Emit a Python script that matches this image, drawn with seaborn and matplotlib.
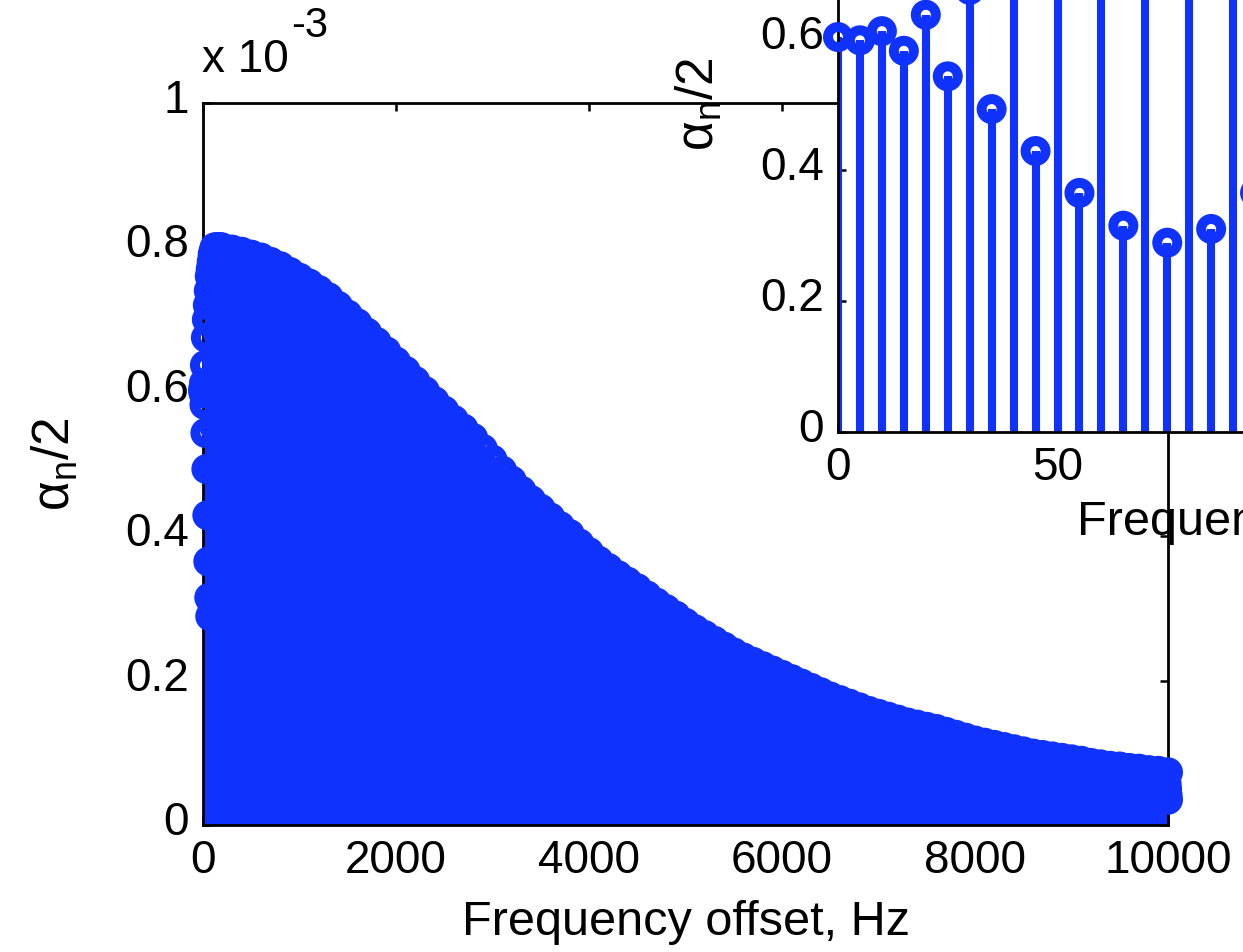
import numpy as np
import pandas as pd
import seaborn as sns
import matplotlib
matplotlib.use("Agg")
import matplotlib.pyplot as plt
from matplotlib.transforms import ScaledTranslation

# ---------------- data (amplitudes in units of 1e-3) ----------------
# harmonics close to the carrier (5 Hz apart)
near_freq = [0, 5, 10, 15, 20, 25, 30, 35, 40, 45,
             50, 55, 60, 65, 70, 75, 80, 85, 90, 95,
             100, 105, 110, 115, 120, 125, 130, 135, 140, 145,
             150, 155, 160, 165, 170, 175, 180, 185, 190, 195]
near_amp = [0.603, 0.598, 0.612, 0.582, 0.637, 0.543, 0.675, 0.493, 0.70, 0.429,
            0.72, 0.365, 0.74, 0.315, 0.76, 0.289, 0.77, 0.310, 0.78, 0.365,
            0.79, 0.43, 0.795, 0.49, 0.80, 0.55, 0.80, 0.60, 0.80, 0.64,
            0.80, 0.68, 0.80, 0.72, 0.80, 0.75, 0.80, 0.78, 0.80, 0.80]

# wider spectrum (one value every 100 Hz)
far_freq = list(range(300, 10001, 100))
far_amp = [0.797, 0.794, 0.790, 0.786, 0.780, 0.774, 0.766, 0.758, 0.750, 0.741,
           0.731, 0.719, 0.707, 0.695, 0.682, 0.669, 0.656, 0.642, 0.629, 0.615,
           0.601, 0.587, 0.574, 0.561, 0.549, 0.536, 0.521, 0.506, 0.491, 0.477,
           0.463, 0.450, 0.438, 0.426, 0.414, 0.403, 0.390, 0.378, 0.366, 0.356,
           0.346, 0.337, 0.328, 0.318, 0.308, 0.299, 0.290, 0.280, 0.271, 0.263,
           0.255, 0.247, 0.239, 0.232, 0.226, 0.220, 0.214, 0.208, 0.202, 0.196,
           0.190, 0.184, 0.178, 0.173, 0.168, 0.163, 0.158, 0.154, 0.150, 0.146,
           0.142, 0.139, 0.136, 0.133, 0.129, 0.125, 0.121, 0.117, 0.114, 0.111,
           0.108, 0.105, 0.102, 0.099, 0.097, 0.095, 0.093, 0.091, 0.089, 0.086,
           0.084, 0.082, 0.081, 0.079, 0.078, 0.076, 0.075, 0.073]

# harmonics at the upper edge of the band
end_freq = [9980, 9985, 9990, 9995, 10000]
end_amp = [0.066, 0.058, 0.050, 0.042, 0.035]

x_ticks_main = [0, 2000, 4000, 6000, 8000, 10000]
y_ticks = [0, 0.2, 0.4, 0.6, 0.8, 1]
x_ticks_inset = [0, 50, 100, 150, 200]
x_ticklabels_inset = ["0", "50", "", "", ""]   # others fall outside the picture

xlabel = "Frequency offset, Hz"
ylabel = "α$_{\\mathrm{n}}$/2"

# ---------------- style ----------------
sns.set_style("white")
plt.rcParams["font.family"] = ["Liberation Sans", "DejaVu Sans"]
plt.rcParams["mathtext.fontset"] = "custom"
plt.rcParams["mathtext.rm"] = "Liberation Sans"
plt.rcParams["mathtext.it"] = "Liberation Sans:italic"
plt.rcParams["mathtext.bf"] = "Liberation Sans:bold"
for k in ["text.color", "axes.labelcolor", "xtick.color", "ytick.color",
          "axes.edgecolor"]:
    plt.rcParams[k] = "black"

BLUE = "#0F32FF"
FS = 33

main_df = pd.DataFrame({
    "freq": near_freq + far_freq + end_freq,
    "amp": near_amp + far_amp + end_amp,
})
inset_df = pd.DataFrame({"freq": near_freq, "amp": near_amp})

W, H = 1243, 952
fig = plt.figure(figsize=(W / 100, H / 100), dpi=100)
fig.patch.set_facecolor("white")

ax = fig.add_axes([203 / W, 127 / H, 965 / W, 722 / H])
ins = fig.add_axes([838 / W, 520 / H, 878 / W, 655 / H])


def style_axes(a, xt, xtl, xlim):
    a.set_facecolor("white")
    a.set_xlim(*xlim)
    a.set_ylim(0, 1)
    a.set_xticks(xt)
    a.set_yticks(y_ticks)
    a.set_xticklabels(xtl)
    a.set_yticklabels([f"{v:g}" for v in y_ticks])
    for s in a.spines.values():
        s.set_visible(True)
        s.set_linewidth(2.0)
        s.set_color("black")
    a.tick_params(axis="both", which="both", direction="in", length=6,
                  width=1.8, colors="black", labelsize=FS, top=True, right=True,
                  left=True, bottom=True, pad=10)
    a.grid(False)
    # MATLAB-like slight upward shift of y tick labels
    off = ScaledTranslation(0, 0.07, fig.dpi_scale_trans)
    for lab in a.get_yticklabels():
        lab.set_transform(lab.get_transform() + off)


# main panel
ax.vlines(main_df["freq"], 0, main_df["amp"], color=BLUE, linewidth=8, zorder=2)
sns.scatterplot(data=main_df, x="freq", y="amp", ax=ax, marker="o", s=207,
                facecolor="none", edgecolor=BLUE, linewidth=7.2,
                clip_on=False, zorder=3, legend=False)
style_axes(ax, x_ticks_main, [f"{v:g}" for v in x_ticks_main], (0, 10000))
ax.set_xlabel(xlabel, fontsize=35, labelpad=12)
ax.set_ylabel(ylabel, fontsize=37, labelpad=32)

# inset
ins.vlines(inset_df["freq"], 0, inset_df["amp"], color=BLUE, linewidth=5.8, zorder=2)
sns.scatterplot(data=inset_df, x="freq", y="amp", ax=ins, marker="o", s=207,
                facecolor="none", edgecolor=BLUE, linewidth=7.2,
                clip_on=False, zorder=3, legend=False)
style_axes(ins, x_ticks_inset, x_ticklabels_inset, (0, 200))
ins.set_xlabel(xlabel, fontsize=35)
ins.xaxis.label.set_ha("left")
ins.xaxis.set_label_coords((1077 - 838) / 878, -68 / 655)
ins.set_ylabel(ylabel, fontsize=37, labelpad=26)

# exponent label
fig.text(202 / W, 1 - 72 / H, "x 10", fontsize=FS, ha="left", va="baseline")
fig.text(291 / W, 1 - 37 / H, "-3", fontsize=30, ha="left", va="baseline")

fig.savefig("out.png", dpi=100, facecolor="white")
